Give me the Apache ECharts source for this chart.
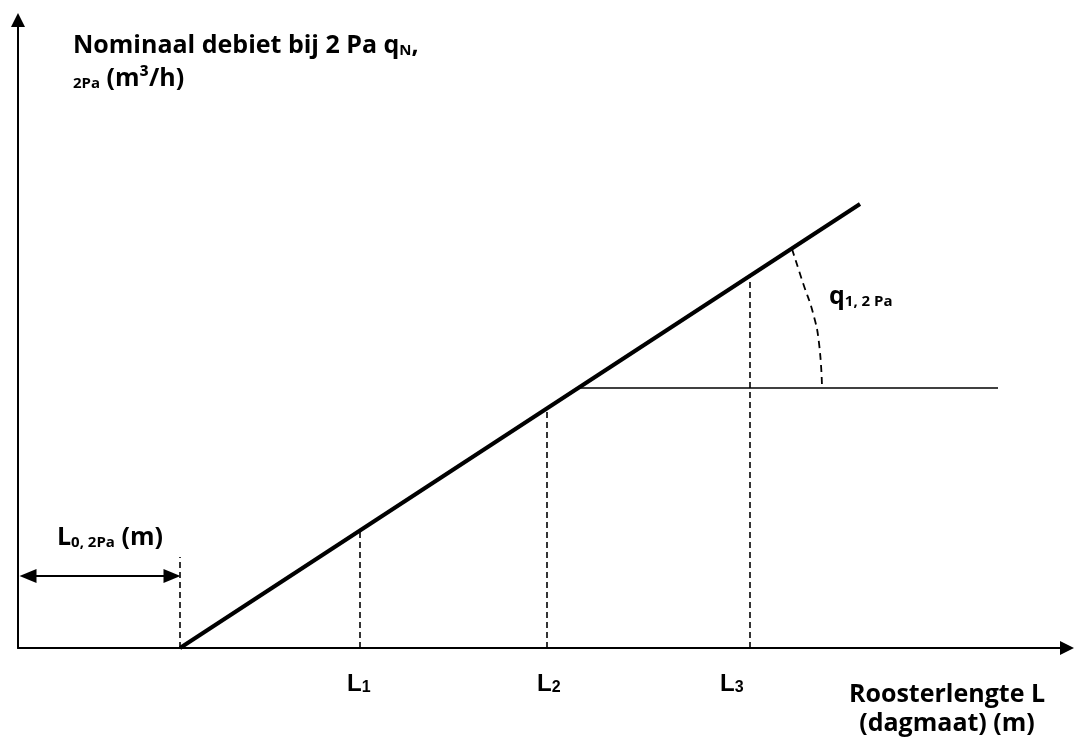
<!DOCTYPE html>
<html>
<head>
<meta charset="utf-8">
<script src="https://cdn.jsdelivr.net/npm/echarts@6/dist/echarts.min.js"></script>
<style>
html,body{margin:0;padding:0;background:#fff;}
#chart{width:1075px;height:740px;}
</style>
</head>
<body>
<div id="chart"></div>
<script>
// ---- data (schematic units) ----
const xMax = 104.9;
const yMax = 62.8;
const mainLine = [[16.2, 0], [84.2, 44.4]];
const horizLine = [[56.0, 26.0], [98.0, 26.0]];
const dropX = [34.2, 52.9, 73.2];
const dropTop = [11.75, 23.96, 37.2];
const dropLabels = ['1', '2', '3'];
const L0x = 16.2;
const L0Top = 9.1;
const arrowSpan = [1.0, 15.4];
const arrowY = 7.2;
const arcPts = [[77.4, 39.9], [78.5, 36.5], [79.5, 33.5], [80.1, 30.5], [80.4, 26.1]];

const FONT = '"Open Sans", sans-serif';
const LFONT = '"Liberation Sans", Arial, sans-serif';

const chart = echarts.init(document.getElementById('chart'), null, {renderer: 'canvas'});

const dashed = {color: '#000', width: 1.6, type: [6, 4]};
const series = [];
series.push({type: 'line', data: mainLine, symbol: 'none', lineStyle: {color: '#000', width: 4}, z: 5});
series.push({type: 'line', data: horizLine, symbol: 'none', lineStyle: {color: '#000', width: 1.6}});
dropX.forEach((x, i) => {
  series.push({type: 'line', data: [[x, 0], [x, dropTop[i]]], symbol: 'none', lineStyle: dashed});
});
series.push({type: 'line', data: [[L0x, 0], [L0x, L0Top]], symbol: 'none', lineStyle: dashed});
series.push({type: 'line', data: arcPts, smooth: true, symbol: 'none', lineStyle: {color: '#000', width: 1.8, type: [7, 5]}});
series.push({
  type: 'line', data: [], symbol: 'none',
  markLine: {
    silent: true, animation: false,
    symbol: ['triangle', 'triangle'], symbolSize: [14, 17],
    label: {show: false},
    lineStyle: {color: '#000', width: 2, type: 'solid'},
    data: [[{coord: [arrowSpan[0], arrowY]}, {coord: [arrowSpan[1], arrowY]}]]
  }
});

function rt(x, y, text, rich, align) {
  return {type: 'text', x: x, y: y, silent: true,
    style: {text: text, rich: rich, align: align || 'left', verticalAlign: 'middle', fill: '#000'}};
}
const big = {fontFamily: FONT, fontSize: 25, fontWeight: 'bold', lineHeight: 30, verticalAlign: 'bottom', fill: '#000'};
const sm = {fontFamily: FONT, fontSize: 15, fontWeight: 'bold', lineHeight: 26, verticalAlign: 'bottom', fill: '#000'};
const lbig = {fontFamily: LFONT, fontSize: 24, fontWeight: 'bold', lineHeight: 30, verticalAlign: 'bottom', fill: '#000'};
const lsm = {fontFamily: LFONT, fontSize: 16, fontWeight: 'bold', lineHeight: 26, verticalAlign: 'bottom', fill: '#000'};

const labelLeft = [347, 537, 720];
const graphics = [
  rt(73, 43, '{b|Nominaal debiet bij 2 Pa q}{s|N}{b|,}', {b: big, s: sm}),
  rt(73, 76, '{s|2Pa}{b| (m³/h)}', {b: big, s: sm}),
  rt(57, 535, '{b|L}{s|0, 2Pa}{b| (m)}', {b: big, s: sm}),
  rt(829, 294, '{b|q}{s|1, 2 Pa}', {b: big, s: sm}),
  rt(947, 692, '{b|Roosterlengte L}', {b: big}, 'center'),
  rt(947, 721, '{b|(dagmaat) (m)}', {b: big}, 'center')
];
dropLabels.forEach((t, i) => {
  graphics.push(rt(labelLeft[i], 681, '{b|L}{s|' + t + '}', {b: lbig, s: lsm}));
});

chart.setOption({
  animation: false,
  backgroundColor: '#fff',
  grid: {left: 18, right: 8, top: 20, bottom: 92},
  xAxis: {
    type: 'value', min: 0, max: xMax,
    axisLine: {show: true, symbol: ['none', 'triangle'], symbolSize: [14, 14], lineStyle: {color: '#000', width: 2}},
    axisTick: {show: false}, axisLabel: {show: false}, splitLine: {show: false}
  },
  yAxis: {
    type: 'value', min: 0, max: yMax,
    axisLine: {show: true, symbol: ['none', 'triangle'], symbolSize: [14, 14], lineStyle: {color: '#000', width: 2}},
    axisTick: {show: false}, axisLabel: {show: false}, splitLine: {show: false}
  },
  series: series,
  graphic: graphics
});
</script>
</body>
</html>
